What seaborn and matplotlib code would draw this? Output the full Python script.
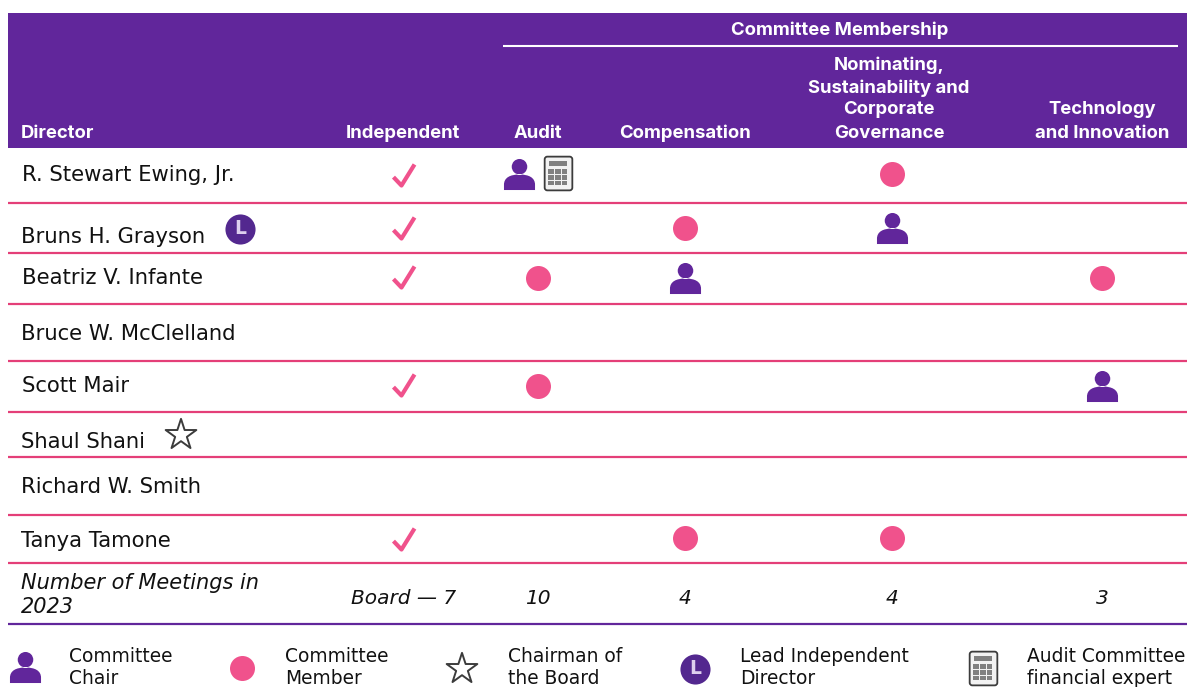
import matplotlib
matplotlib.use("Agg")
import matplotlib.pyplot as plt
from matplotlib.patches import FancyBboxPatch, Rectangle
from matplotlib.path import Path
import pandas as pd
import seaborn as sns

directors = ["R. Stewart Ewing, Jr.", "Bruns H. Grayson", "Beatriz V. Infante", "Bruce W. McClelland",
             "Scott Mair", "Shaul Shani", "Richard W. Smith", "Tanya Tamone"]
independent = [1, 1, 1, 0, 1, 0, 0, 1]
audit = ["chair", None, "member", None, "member", None, None, None]
compensation = [None, "member", "chair", None, None, None, None, "member"]
nominating = ["member", "chair", None, None, None, None, None, "member"]
technology = [None, None, "member", None, "chair", None, None, None]
meetings = ["Board — 7", "10", "4", "4", "3"]
legend_labels = ["Committee\nChair", "Committee\nMember", "Chairman of\nthe Board",
                 "Lead Independent\nDirector", "Audit Committee\nfinancial expert"]

PURPLE = "#61269b"
BADGE = "#53288f"
PINK = "#f0528c"
RULE = "#e43f78"
DARK = "#3c3c3c"

# layout, in image pixels
name_x = [22, 21, 22, 21, 22, 21, 21, 21]
name_y = [175, 237, 278, 334, 386, 442, 487, 541]
row_y = [174, 228, 278, 333, 386, 441, 486, 538]
check_y = [175, 228, 277, 333, 385, 441, 486, 539]
col_x = {"independent": 404, "audit": 538, "compensation": 685, "nominating": 892, "technology": 1102}
rule_y = [203, 253, 304, 361, 412, 457, 515, 563]
legend_x = [25, 242, 462, 695, 983]
legend_text_x = [69, 285, 508, 740, 1027]


def rect(x0, y0, x1, y1):
    return Path([(x0, y0), (x1, y0), (x1, y1), (x0, y1), (x0, y0)], closed=True)


def person_marker():
    body = Path(
        [(-0.5, -0.5), (-0.5, -0.33), (-0.5, -0.1), (-0.3, 0.0), (0, 0.0), (0.3, 0.0),
         (0.5, -0.1), (0.5, -0.33), (0.5, -0.5), (-0.5, -0.5)],
        [Path.MOVETO, Path.LINETO, Path.CURVE4, Path.CURVE4, Path.CURVE4, Path.CURVE4,
         Path.CURVE4, Path.CURVE4, Path.LINETO, Path.CLOSEPOLY],
    )
    head = Path.circle((0, 0.25), 0.25)
    return Path.make_compound_path(body, head)


def calc_body_marker():
    return FancyBboxPatch((-0.41, -0.5), 0.82, 1.0, boxstyle="round,pad=0,rounding_size=0.08").get_path()


def calc_keys_marker():
    # zero-area corner keeps the marker on the same scale as the body
    parts = [rect(0.5, 0.5, 0.5, 0.5)]
    parts.append(rect(-0.28, 0.2, 0.28, 0.37))
    parts.append(rect(0.22, 0.31, -0.22, 0.26))
    for i in range(3):
        for j in range(3):
            x0 = -0.29 + i * 0.2
            y0 = -0.37 + j * 0.17
            parts.append(rect(x0, y0, x0 + 0.17, y0 + 0.14))
    return Path.make_compound_path(*parts)


check_marker = Path([(-0.5, -0.1), (-0.12, -0.5), (0.5, 0.5)])


def build_marks():
    rows = []
    for col, values in [("audit", audit), ("compensation", compensation),
                        ("nominating", nominating), ("technology", technology)]:
        for i, role in enumerate(values):
            if role:
                rows.append({"x": col_x[col], "y": row_y[i], "role": role, "director": directors[i]})
    return pd.DataFrame(rows)


def put_person(ax, x, y):
    sns.scatterplot(x=x, y=y, marker=person_marker(), s=500, color=PURPLE, linewidth=0, legend=False, ax=ax)


def put_member(ax, x, y):
    sns.scatterplot(x=x, y=y, marker="o", s=324, color=PINK, linewidth=0, legend=False, ax=ax)


def put_calc(ax, x, y):
    sns.scatterplot(x=[x], y=[y], marker=calc_body_marker(), s=590, facecolor="#f2f2f2", edgecolor=DARK,
                    linewidth=1.3, legend=False, ax=ax)
    sns.scatterplot(x=[x], y=[y], marker=calc_keys_marker(), s=590, color="#808080", linewidth=0,
                    legend=False, ax=ax)


def put_star(ax, x, y):
    sns.scatterplot(x=[x], y=[y], marker="*", s=540, facecolor="none", edgecolor=DARK, linewidth=1.4,
                    legend=False, ax=ax)


def put_lead(ax, x, y, size):
    sns.scatterplot(x=[x], y=[y], marker="o", s=size, color=BADGE, linewidth=0, legend=False, ax=ax)
    ax.text(x, y, "L", color="#ddcfee", fontsize=13.5, fontweight="bold", ha="center", va="center",
            family="DejaVu Sans")


def main():
    sns.set_theme(style="white")
    fig = plt.figure(figsize=(11.87, 6.87), dpi=100)
    ax = fig.add_axes([0, 0, 1, 1])
    ax.set_xlim(0, 1187)
    ax.set_ylim(687, 0)
    ax.axis("off")

    ax.add_patch(Rectangle((8, 13), 1179, 135, color=PURPLE, lw=0))
    ax.hlines(rule_y, 8, 1187, color=RULE, lw=1.6)
    ax.hlines(624, 8, 1187, color=PURPLE, lw=1.6)
    ax.hlines(46, 503, 1178, color="white", lw=1.5)

    head = dict(color="white", fontsize=13.3, fontweight="bold", family="Inter", va="center", ha="center")
    ax.text(840, 30, "Committee Membership", **head)
    ax.text(21, 133, "Director", **{**head, "ha": "left"})
    ax.text(403, 133, "Independent", **head)
    ax.text(538, 133, "Audit", **head)
    ax.text(685, 133, "Compensation", **head)
    for y, line in zip([65, 88, 110, 133], ["Nominating,", "Sustainability and", "Corporate", "Governance"]):
        ax.text(889, y, line, **head)
    for y, line in zip([110, 133], ["Technology", "and Innovation"]):
        ax.text(1102, y, line, **head)

    body = dict(color="#111111", fontsize=15.2, family="DejaVu Sans", va="center")
    for x, y, name in zip(name_x, name_y, directors):
        ax.text(x, y, name, **body)

    checks = [(col_x["independent"], y) for y, flag in zip(check_y, independent) if flag]
    sns.scatterplot(x=[c[0] for c in checks], y=[c[1] for c in checks], marker=check_marker, s=230,
                    facecolor="none", edgecolor=PINK, linewidth=3, legend=False, ax=ax)

    marks = build_marks()
    # Ewing chairs Audit and is the financial expert, so his icon sits left of centre
    marks.loc[(marks.director == directors[0]) & (marks.role == "chair"), "x"] = 519
    chairs = marks[marks.role == "chair"]
    members = marks[marks.role == "member"]
    put_person(ax, chairs.x.to_numpy(), chairs.y.to_numpy())
    put_member(ax, members.x.to_numpy(), members.y.to_numpy())
    put_calc(ax, 558, 173)
    put_lead(ax, 240, 229, 470)
    put_star(ax, 181, 435)

    ital = dict(color="#111111", fontsize=14.5, family="DejaVu Sans", style="italic", va="center")
    ax.text(21, 583, "Number of Meetings in", **{**ital, "fontsize": 15})
    ax.text(21, 607, "2023", **{**ital, "fontsize": 15})
    for x, label in zip(col_x.values(), meetings):
        ax.text(x, 599, label, ha="center", **ital)

    put_person(ax, [legend_x[0]], [667])
    put_member(ax, [legend_x[1]], [668])
    put_star(ax, legend_x[2], 669)
    put_lead(ax, legend_x[3], 669, 470)
    put_calc(ax, legend_x[4], 668)
    for x, label in zip(legend_text_x, legend_labels):
        top, bottom = label.split("\n")
        ax.text(x, 657, top, **{**body, "fontsize": 13.4})
        ax.text(x, 679, bottom, **{**body, "fontsize": 13.4})

    fig.savefig("out.png", dpi=100)


if __name__ == "__main__":
    main()
